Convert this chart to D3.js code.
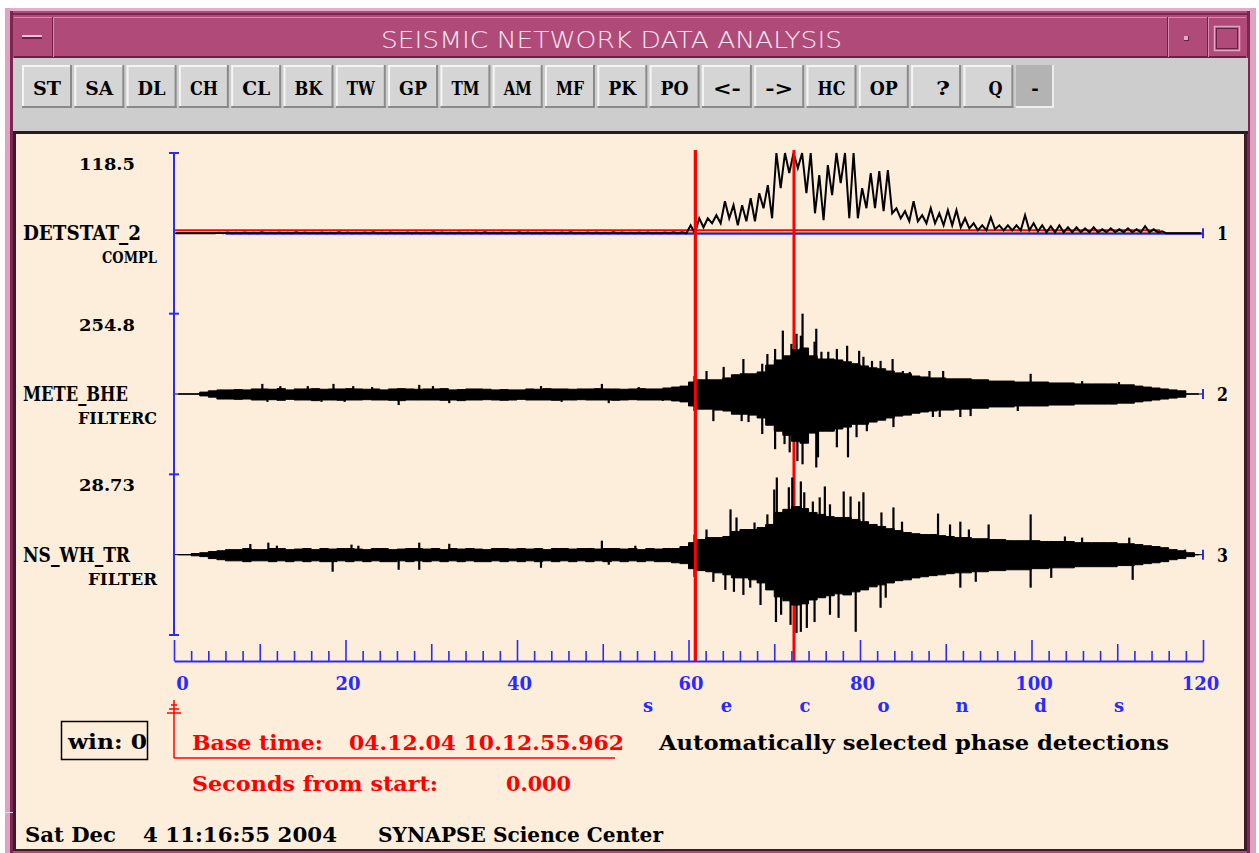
<!DOCTYPE html>
<html>
<head>
<meta charset="utf-8">
<script src="https://cdn.jsdelivr.net/npm/d3@7"></script>
<style>
  html, body { margin: 0; padding: 0; background: #fff; }
  svg { display: block; }
  text { font-family: "DejaVu Serif", serif; font-weight: bold; }
  text.title { font-family: "DejaVu Sans", sans-serif; font-weight: 200; }
</style>
</head>
<body>
<svg id="chart" width="1259" height="853"></svg>
<script>
// ---------------- channels ----------------
const stations = ["DETSTAT_2", "METE_BHE", "NS_WH_TR"];
const components = ["COMPL", "FILTERC", "FILTER"];
const traceScale = [118.5, 254.8, 28.73];
const channelIds = [1, 2, 3];

// ---------------- time axis ----------------
const timeDomain = [0, 120];
const labelledTicks = [0, 20, 40, 60, 80, 100, 120];
const axisTitle = "seconds";

// ---------------- phase detections ----------------
const detectionTimes = [60.8, 72.3];
const detectionOverTraces = [true, false];
const detThreshold = 4.4;          // red level on the detector trace
const thresholdSpan = [0, 115];
const detBaseLevel = -0.9;         // blue level on the detector trace
const baseLevelSpan = [6, 120];

// ---------------- detector statistic (1 s bins: max / min) ----------------
const detstatMax = [
  0,0,0,0,0,1.0,1.2,0.8,1.3,1.0,
  1.5,0.9,1.2,1.0,1.4,1.1,0.8,1.3,1.0,1.5,
  1.2,0.9,1.1,1.4,1.0,1.2,0.8,1.3,1.1,1.0,
  1.5,1.2,0.9,1.3,1.0,1.1,1.4,0.9,1.2,1.0,
  1.5,1.1,0.8,1.3,1.0,1.2,1.4,0.9,1.1,1.3,
  1.0,1.5,1.2,0.9,1.1,1.3,1.0,1.2,1.4,1.5,
  11.8,22.2,22.2,26.7,47.4,41.5,41.5,51.8,59.2,71.1,
  118.5,118.5,118.5,118.5,118.5,85.9,100.7,118.5,118.5,118.5,
  66.6,88.9,91.8,93.3,37.0,32.6,47.4,26.7,37.0,29.6,
  34.1,34.1,22.2,14.8,11.8,23.7,11.8,11.8,11.8,26.7,
  14.8,11.8,10.4,11.8,8.9,8.9,7.4,8.9,5.9,7.4,
  5.9,7.4,5.9,10.4,5.9,3.0,0,0,0,0
];
const detstatMin = [
  0,0,0,0,0,0,0,0,0,0,
  0,0,0,0,0,0,0,0,0,0,
  0,0,0,0,0,0,0,0,0,0,
  0,0,0,0,0,0,0,0,0,0,
  0,0,0,0,0,0,0,0,0,0,
  0,0,0,0,0,0,0,0,0,0,
  0,8.9,14.8,14.8,22.2,11.8,17.8,17.8,37.0,22.2,
  66.6,88.9,96.3,59.2,29.6,19.3,56.3,74.0,22.2,22.2,
  37.0,37.0,32.6,29.6,22.2,17.8,17.8,14.8,14.8,11.8,
  11.8,8.9,7.4,4.4,4.4,5.9,4.4,4.4,4.4,4.4,
  3.0,1.5,1.5,1.5,1.5,1.5,1.5,1.5,1.5,1.5,
  1.5,1.5,1.5,1.5,1.5,0,0,0,0,0
];

// ---------------- METE_BHE envelope (1 s bins) ----------------
const meteMax = [
  0,0,0,6,10,13,13,14,13,16,
  16,15,17,13,16,16,17,15,16,16,
  17,16,15,16,13,16,17,16,15,16,
  16,17,13,14,16,16,15,13,14,13,
  13,16,15,17,16,16,15,16,16,17,
  16,16,15,16,17,16,16,19,22,25,
  38,45,45,45,51,61,64,64,70,92,
  108,121,140,146,121,111,111,108,102,96,
  89,83,80,73,67,64,57,54,51,51,
  48,48,48,45,45,41,41,41,38,38,
  38,38,35,35,35,32,32,32,32,32,
  29,29,25,22,19,16,13,10,0,0
];
const meteMin = [
  0,0,0,-6,-10,-16,-16,-17,-16,-19,
  -19,-18,-20,-17,-19,-19,-21,-19,-19,-20,
  -19,-19,-18,-19,-19,-20,-21,-19,-19,-19,
  -19,-20,-19,-21,-19,-19,-18,-19,-20,-19,
  -17,-19,-19,-19,-20,-19,-19,-18,-19,-19,
  -19,-20,-19,-18,-19,-19,-19,-19,-22,-25,
  -38,-48,-48,-51,-54,-64,-64,-67,-76,-99,
  -118,-131,-150,-156,-124,-118,-118,-111,-105,-96,
  -96,-89,-83,-76,-70,-67,-61,-57,-54,-51,
  -51,-48,-48,-45,-45,-41,-41,-41,-38,-38,
  -38,-38,-35,-35,-35,-32,-32,-32,-32,-32,
  -29,-29,-25,-22,-19,-16,-13,-10,0,0
];
// isolated peaks [time s, amplitude]
const metePeaks = [
  [10.3,32],[10.9,-25],[12.4,25],[15.6,25],[17.2,-25],[18.6,32],[19.9,-25],[20.9,25],
  [23.1,22],[26.2,-35],[28.6,29],[30.2,25],[32.1,-29],[42.8,25],[45.2,-25],[49.9,32],
  [50.7,-29],[54.2,22],[57.0,-22],
  [60.7,57],[60.7,-54],[62.1,73],[62.9,-86],[64.1,86],[66.2,-86],[66.4,111],[67.0,-89],
  [68.6,96],[68.6,-127],[69.2,127],[70.1,143],[70.1,-175],[71.0,201],[71.2,-159],
  [71.8,-185],[72.0,159],[72.6,191],[72.7,-213],[73.1,185],[73.3,254.8],[73.3,-223],
  [74.1,-111],[74.7,166],[74.9,207],[74.9,-233],[75.1,-201],[75.5,134],[76.3,134],
  [77.3,143],[77.3,-169],[78.5,153],[78.6,-201],[79.6,-137],[79.9,137],[80.4,118],
  [80.8,-118],[81.4,105],[82.4,105],[83.8,111],[83.9,-105],[85.0,73],[85.8,70],
  [88.1,73],[88.5,-73],[89.3,-73],[89.7,73],[91.7,-73],[92.9,-70],[98.4,-54],
  [99.9,64],[105.9,41],[110.2,38]
];

// ---------------- NS_WH_TR envelope (1 s bins) ----------------
const nswhMax = [
  0,0,0.4,0.7,1.1,1.4,1.8,1.8,2.2,1.8,
  1.8,2.2,2.2,1.8,2.0,2.2,1.8,2.2,2.0,2.2,
  2.2,2.0,1.8,2.2,2.2,1.8,2.0,2.2,2.2,2.0,
  2.2,1.8,2.2,2.0,2.2,2.0,1.8,2.2,2.2,2.0,
  2.2,2.0,2.2,1.8,2.2,2.2,2.0,2.2,2.2,2.0,
  2.2,2.2,2.0,2.2,1.8,2.2,2.0,2.2,2.2,2.9,
  4.3,5.4,6.1,6.1,6.5,8.3,9.0,9.0,9.7,10.8,
  15.1,16.2,17.2,16.5,15.1,14.4,13.6,13.3,13.3,12.6,
  11.8,10.8,10.1,9.3,8.6,7.9,7.5,7.2,7.2,6.8,
  6.5,6.1,6.1,5.7,5.7,5.4,5.4,5.0,5.0,5.0,
  5.0,4.7,4.7,4.7,4.7,4.3,4.3,4.3,4.3,4.3,
  3.9,3.9,3.6,3.2,2.9,2.5,1.8,1.4,0.7,0
];
const nswhMin = [
  0,0,-0.4,-0.7,-1.4,-1.8,-2.2,-2.2,-2.5,-2.2,
  -2.2,-2.5,-2.2,-2.5,-2.2,-2.5,-2.2,-2.5,-2.5,-2.2,
  -2.5,-2.2,-2.5,-2.2,-2.5,-2.5,-2.2,-2.5,-2.2,-2.5,
  -2.2,-2.5,-2.2,-2.5,-2.2,-2.5,-2.5,-2.2,-2.5,-2.2,
  -2.5,-2.2,-2.5,-2.2,-2.5,-2.2,-2.5,-2.2,-2.5,-2.2,
  -2.5,-2.2,-2.5,-2.2,-2.5,-2.2,-2.5,-2.5,-2.9,-3.2,
  -5.0,-5.7,-6.1,-6.5,-7.2,-8.3,-8.3,-9.0,-10.1,-12.6,
  -15.1,-16.5,-18.0,-17.6,-16.2,-15.4,-14.7,-14.0,-14.4,-13.3,
  -12.6,-11.5,-10.8,-10.1,-9.3,-9.0,-8.3,-7.9,-7.5,-7.2,
  -6.8,-6.5,-6.5,-6.1,-6.1,-5.7,-5.7,-5.4,-5.4,-5.4,
  -5.0,-5.0,-4.7,-4.7,-4.7,-4.3,-4.3,-4.3,-4.3,-4.3,
  -3.9,-3.9,-3.6,-3.2,-2.9,-2.5,-1.8,-1.4,-0.7,0
];
const nswhPeaks = [
  [8.9,3.8],[11.0,4.3],[12.0,3.2],[18.5,-6.1],[20.7,3.6],[21.5,3.2],[26.2,-5.4],
  [28.6,4.3],[28.6,-5.4],[32.1,3.9],[42.8,-4.7],[49.9,5.0],[50.7,-3.6],[53.8,3.2],
  [60.7,7.2],[60.7,-7.9],[62.1,9.0],[62.9,-9.7],[64.3,-12.6],[64.9,16.2],[65.3,-13.3],
  [65.6,13.3],[66.4,-14.4],[67.2,-11.8],[67.7,11.5],[68.4,-18.0],[69.2,14.4],[70.0,23.3],
  [70.2,-24.1],[70.3,27.6],[70.8,-21.5],[71.7,24.1],[71.9,-25.1],[72.1,27.6],[72.6,-28.0],
  [73.1,26.2],[73.1,-27.6],[73.5,22.3],[73.8,-26.2],[74.5,19.0],[74.7,-24.1],[75.3,20.5],
  [75.9,24.4],[76.5,18.0],[76.5,-21.5],[77.5,-22.6],[78.1,22.6],[78.9,20.8],[79.5,-27.6],
  [79.9,19.0],[80.4,22.3],[82.4,-19.0],[82.5,15.1],[83.0,-15.4],[83.9,16.9],[84.9,11.8],
  [89.1,14.7],[90.5,10.8],[91.7,11.8],[91.7,-11.8],[92.7,9.0],[93.5,-9.7],[95.0,10.8],
  [99.9,14.4],[99.9,-11.8],[102.3,-8.3],[103.9,6.5],[105.9,6.1],[111.4,6.1],[111.8,-9.0],
  [117.9,1.8]
];

// ---------------- toolbar & status texts ----------------
const buttonLabels = ["ST","SA","DL","CH","CL","BK","TW","GP","TM","AM","MF","PK","PO","<-","->","HC","OP","?","Q"];
const windowTitle = "SEISMIC NETWORK DATA ANALYSIS";
const winLabel = "win: 0";
const baseTimeLabel = "Base time:";
const baseTimeValue = "04.12.04 10.12.55.962";
const secondsLabel = "Seconds from start:";
const secondsValue = "0.000";
const pickMode = "Automatically selected phase detections";
const statusDate = ["Sat Dec", "4 11:16:55 2004"];
const statusSite = "SYNAPSE Science Center";

// ---------------- drawing ----------------
const W = 1259, H = 853;
const PINK = "#b04a79", PINK_LIGHT = "#dea3c2", PINK_DARK = "#7c2652";
const CREAM = "#fdeddb", BLUE = "#2a2aff", RED = "#ff0000";
const svg = d3.select("#chart");

function txt(g, s, x, y, size, w, opts = {}) {
  const t = g.append("text").attr("x", x).attr("y", y).attr("font-size", size)
    .attr("fill", opts.fill || "#000").style("white-space", "pre").text(s);
  if (w) t.attr("textLength", w).attr("lengthAdjust", "spacingAndGlyphs");
  if (opts.anchor) t.attr("text-anchor", opts.anchor);
  if (opts.cls) t.attr("class", opts.cls);
  return t;
}
function rect(g, x, y, w, h, fill) {
  return g.append("rect").attr("x", x).attr("y", y).attr("width", w).attr("height", h).attr("fill", fill);
}

svg.append("rect").attr("width", W).attr("height", H).attr("fill", "#fff");

// window frame
const frame = svg.append("g");
rect(frame, 5, 8, 1251, 845, PINK);
rect(frame, 5, 8, 1251, 3, "#e3adcb");
rect(frame, 5, 8, 5, 845, PINK_LIGHT);
rect(frame, 1250, 8, 6, 845, PINK_LIGHT);
rect(frame, 10, 11, 3, 842, PINK_DARK);
rect(frame, 1247, 11, 3, 842, PINK_DARK);
rect(frame, 10, 13, 1240, 2, PINK_DARK);

// title bar
rect(frame, 14, 17, 1232, 40, PINK);
rect(frame, 14, 17, 1232, 1, "#d48cb0");
rect(frame, 14, 56, 1232, 2, "#6e1f47");
[52, 1167, 1207].forEach(sx => {
  rect(frame, sx, 17, 1, 40, "#6e1f47");
  rect(frame, sx + 1, 17, 1, 40, "#d48cb0");
});
rect(frame, 22, 37, 20, 2, "#6e1f47");
rect(frame, 22, 35, 20, 2, "#ecc3d6");
rect(frame, 1184, 36, 5, 5, "#6e1f47");
rect(frame, 1184, 36, 4, 4, "#dcaac4");
frame.append("rect").attr("x", 1214.5).attr("y", 26.5).attr("width", 25).attr("height", 24)
  .attr("fill", "none").attr("stroke", "#dca6c2").attr("stroke-width", 1.5);
frame.append("rect").attr("x", 1216.5).attr("y", 28.5).attr("width", 21).attr("height", 20)
  .attr("fill", "none").attr("stroke", "#6e1f47").attr("stroke-width", 1);
txt(frame, windowTitle, 381, 48, 23, 461, { fill: "#f7eaf1", cls: "title" });

// toolbar
const bar = svg.append("g");
rect(bar, 13, 58, 1235, 75, "#cdcdcd");
buttonLabels.forEach((lab, i) => {
  const bx = 22 + 52.3 * i, by = 65, bw = 50, bh = 43;
  rect(bar, bx, by, bw, bh, "#d5d5d5");
  rect(bar, bx, by, bw, 2, "#f4f4f4");
  rect(bar, bx, by, 2, bh, "#f4f4f4");
  rect(bar, bx, by + bh - 2, bw, 2, "#8a8a8a");
  rect(bar, bx + bw - 2, by, 2, bh, "#8a8a8a");
  txt(bar, lab, bx + bw / 2 + 14, 95, 18, 14 * lab.length, { anchor: "end" });
});
rect(bar, 1016, 65, 38, 43, "#b3b3b3");
rect(bar, 1016, 106, 38, 2, "#eeeeee");
rect(bar, 1052, 65, 2, 43, "#eeeeee");
txt(bar, "-", 1035, 95, 18, null, { anchor: "middle" });
rect(bar, 13, 131, 1235, 3, "#2b1822");

// panel
const panel = svg.append("g");
rect(panel, 13, 134, 3, 717, "#3a1a2c");
rect(panel, 1244, 134, 3, 717, "#3a1a2c");
rect(panel, 16, 134, 1228, 715, CREAM);
rect(panel, 13, 849, 1234, 2, "#3a1a2c");
rect(panel, 5, 812, 8, 1, "#f2d6e4");

// scales
const x = d3.scaleLinear().domain(timeDomain).range([174, 1203]);
const plotTop = 153, plotBottom = 635;
const rowH = (plotBottom - plotTop) / stations.length;
const centers = stations.map((s, i) => plotTop + rowH * (i + 0.5));
const yScales = traceScale.map((a, i) =>
  d3.scaleLinear().domain([-a, a]).range([centers[i] + rowH / 2, centers[i] - rowH / 2]));

const plot = svg.append("g");
const fmt = d3.format(".4");

// channel labels
stations.forEach((s, i) => {
  const c = centers[i];
  txt(plot, fmt(traceScale[i]), 135, plotTop + rowH * i + 17, 17, 56, { anchor: "end" });
  txt(plot, s, 23, c + 7, 21, [118, 105, 107][i]);
  txt(plot, components[i], 157, c + 30, 16, [55, 79, 69][i], { anchor: "end" });
  txt(plot, String(channelIds[i]), 1217, c + 7, 19, 11);
});

// trace baselines and end marks
stations.forEach((s, i) => {
  const y = yScales[i];
  plot.append("line").attr("x1", x(0)).attr("x2", x(120)).attr("y1", y(0)).attr("y2", y(0))
    .attr("stroke", "#000").attr("stroke-width", i === 0 ? 1.5 : 1);
  plot.append("line").attr("x1", x(120)).attr("x2", x(120)).attr("y1", y(0) - 5).attr("y2", y(0) + 5)
    .attr("stroke", BLUE).attr("stroke-width", 2);
});

// detector trace: levels and a jagged max/min stroke
const y0s = yScales[0];
plot.append("line").attr("x1", x(baseLevelSpan[0])).attr("x2", x(baseLevelSpan[1]))
  .attr("y1", y0s(detBaseLevel)).attr("y2", y0s(detBaseLevel)).attr("stroke", BLUE).attr("stroke-width", 1.6);
plot.append("line").attr("x1", x(thresholdSpan[0])).attr("x2", x(thresholdSpan[1]))
  .attr("y1", y0s(detThreshold)).attr("y2", y0s(detThreshold)).attr("stroke", RED).attr("stroke-width", 2);
const zig = [];
detstatMax.forEach((v, i) => { zig.push({ t: i + 0.25, v: v }); zig.push({ t: i + 0.75, v: detstatMin[i] }); });
plot.append("path").datum(zig)
  .attr("d", d3.line().x(d => x(d.t)).y(d => y0s(d.v)))
  .attr("fill", "none").attr("stroke", "#000").attr("stroke-width", 2);

// detection marks under the seismograms
const detLine = (g, t) => g.append("line").attr("x1", x(t)).attr("x2", x(t)).attr("y1", 150).attr("y2", 661)
  .attr("stroke", RED).attr("stroke-width", 3);
detectionTimes.forEach(t => detLine(plot, t));

// seismograms: filled min/max envelope plus isolated peaks
function drawSeismogram(i, maxArr, minArr, peaks) {
  const y = yScales[i];
  const bins = maxArr.map((v, k) => ({ t: k + 0.5, hi: v, lo: minArr[k] }));
  const area = d3.area().curve(d3.curveStep).x(d => x(d.t)).y0(d => y(d.lo)).y1(d => y(d.hi));
  plot.append("path").datum(bins).attr("d", area).attr("fill", "#000")
    .attr("stroke", "#000").attr("stroke-width", 1);
  plot.append("g").selectAll("line").data(peaks).join("line")
    .attr("x1", d => x(d[0])).attr("x2", d => x(d[0]))
    .attr("y1", y(0)).attr("y2", d => y(d[1]))
    .attr("stroke", "#000").attr("stroke-width", 2.2);
}
drawSeismogram(1, meteMax, meteMin, metePeaks);
drawSeismogram(2, nswhMax, nswhMin, nswhPeaks);

// detections drawn over the seismograms
detectionTimes.forEach((t, k) => { if (detectionOverTraces[k]) detLine(plot, t); });

// amplitude axis
plot.append("line").attr("x1", 174).attr("x2", 174).attr("y1", plotTop).attr("y2", plotBottom)
  .attr("stroke", BLUE).attr("stroke-width", 2);
d3.range(stations.length + 1).forEach(k => {
  const yy = plotTop + rowH * k;
  plot.append("line").attr("x1", 169).attr("x2", 179).attr("y1", yy).attr("y2", yy)
    .attr("stroke", BLUE).attr("stroke-width", 2);
});

// time axis
const tickValues = d3.range(timeDomain[0], timeDomain[1] + 1, 2);
const xAxis = d3.axisBottom(x).tickValues(tickValues).tickSizeInner(-10).tickSizeOuter(0)
  .tickPadding(16).tickFormat(d => labelledTicks.includes(d) ? d : "");
const ag = svg.append("g").attr("transform", "translate(0,661)").call(xAxis)
  .attr("font-size", 18);
ag.select(".domain").attr("stroke", BLUE).attr("stroke-width", 2);
ag.selectAll(".tick line").attr("stroke", BLUE).attr("stroke-width", 1.6)
  .attr("y2", d => d % 20 === 0 ? -21 : d % 10 === 0 ? -17 : -10);
ag.selectAll(".tick text").attr("fill", BLUE)
  .attr("dx", d => d === 0 ? 8 : d === 120 ? -3 : 2);
axisTitle.split("").forEach((ch, k) => {
  txt(svg, ch, 648 + 78.5 * k, 712, 18, null, { anchor: "middle", fill: BLUE });
});

// status area
const st = svg.append("g");
st.append("rect").attr("x", 61.5).attr("y", 721.5).attr("width", 86).attr("height", 38)
  .attr("fill", "none").attr("stroke", "#000").attr("stroke-width", 1.5);
txt(st, winLabel, 68, 749, 20, 79);

const bx0 = x(0);
st.append("line").attr("x1", bx0).attr("x2", bx0).attr("y1", 700).attr("y2", 758).attr("stroke", RED).attr("stroke-width", 1.5);
st.append("line").attr("x1", bx0).attr("x2", 615).attr("y1", 758).attr("y2", 758).attr("stroke", RED).attr("stroke-width", 1.5);
[[705, 3], [709, 5], [713, 7]].forEach(([yy, hw]) => {
  st.append("line").attr("x1", bx0 - hw).attr("x2", bx0 + hw).attr("y1", yy).attr("y2", yy)
    .attr("stroke", RED).attr("stroke-width", 1.5);
});

txt(st, baseTimeLabel, 192, 750, 20, 131, { fill: RED });
txt(st, baseTimeValue, 349, 750, 20, 275, { fill: RED });
txt(st, pickMode, 659, 750, 20, 510);
txt(st, secondsLabel, 192, 791, 20, 246, { fill: RED });
txt(st, secondsValue, 506, 791, 20, 65, { fill: RED });
txt(st, statusDate[0], 25, 842, 20, 91);
txt(st, statusDate[1], 143, 842, 20, 194);
txt(st, statusSite, 378, 842, 20, 285);
</script>
</body>
</html>
